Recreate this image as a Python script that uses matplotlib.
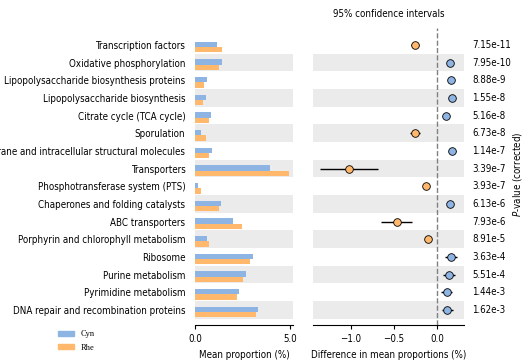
import matplotlib
matplotlib.use("Agg")
import matplotlib.pyplot as plt
import matplotlib.transforms as mtransforms
from matplotlib.patches import Patch

features = ["Transcription factors", "Oxidative phosphorylation",
            "Lipopolysaccharide biosynthesis proteins", "Lipopolysaccharide biosynthesis",
            "Citrate cycle (TCA cycle)", "Sporulation",
            "Membrane and intracellular structural molecules", "Transporters",
            "Phosphotransferase system (PTS)", "Chaperones and folding catalysts",
            "ABC transporters", "Porphyrin and chlorophyll metabolism",
            "Ribosome", "Purine metabolism", "Pyrimidine metabolism",
            "DNA repair and recombination proteins"]
cyn = [1.17, 1.40, 0.65, 0.58, 0.86, 0.32, 0.89, 3.95,
       0.16, 1.37, 2.00, 0.63, 3.05, 2.67, 2.33, 3.30]
rhe = [1.40, 1.26, 0.49, 0.42, 0.74, 0.58, 0.72, 4.95,
       0.30, 1.26, 2.46, 0.74, 2.89, 2.53, 2.21, 3.19]
diff = [-0.26, 0.147, 0.16, 0.167, 0.105, -0.26, 0.174, -1.02,
        -0.13, 0.143, -0.47, -0.104, 0.155, 0.136, 0.108, 0.116]
ci = [0.05, 0.02, 0.02, 0.02, 0.02, 0.06, 0.04, 0.335,
      0.02, 0.03, 0.18, 0.02, 0.07, 0.07, 0.06, 0.065]
pvals = ["7.15e-11", "7.95e-10", "8.88e-9", "1.55e-8", "5.16e-8", "6.73e-8",
         "1.14e-7", "3.39e-7", "3.93e-7", "6.13e-6", "7.93e-6", "8.91e-5",
         "3.63e-4", "5.51e-4", "1.44e-3", "1.62e-3"]

blue = "#8db4e2"
orange = "#ffb86c"
band = "#ebebeb"
fs = 7

plt.rcParams['font.family'] = 'DejaVu Sans'
plt.rcParams['font.stretch'] = 'condensed'
plt.rcParams['font.size'] = fs

fig = plt.figure(figsize=(5.24, 3.6), dpi=100)
W, H = 524.0, 360.0
bottom = 1 - 325 / H
height = 297 / H
ax1 = fig.add_axes([195 / W, bottom, 98 / W, height])
ax2 = fig.add_axes([313 / W, bottom, 151 / W, height])

n = len(features)
ys = list(range(n))

for ax in (ax1, ax2):
    for i in ys:
        if i % 2 == 1:
            ax.axhspan(i - 0.5, i + 0.5, color=band, zorder=0, lw=0)
    for s in ("top", "right", "left"):
        ax.spines[s].set_visible(False)
    ax.set_ylim(15.85, -0.96)
    ax.tick_params(axis='y', length=0)
    ax.tick_params(axis='x', labelsize=fs, length=3)

ax1.barh([y - 0.03 for y in ys], cyn, height=0.3, color=blue, zorder=2)
ax1.barh([y + 0.27 for y in ys], rhe, height=0.3, color=orange, zorder=2)
ax1.set_xlim(0, 5.15)
ax1.set_xticks([0, 5])
ax1.set_xticklabels(["0.0", "5.0"])
ax1.set_yticks(ys)
ax1.set_yticklabels(features, fontsize=fs)
ax1.tick_params(axis='y', pad=7)
ax1.set_xlabel("Mean proportion (%)", fontsize=fs)

ax2.axvline(0, ls='--', color='grey', lw=1, zorder=1)
for i in ys:
    c = orange if diff[i] < 0 else blue
    ax2.errorbar(diff[i], i, xerr=ci[i], fmt='o', color='black', ecolor='black',
                 elinewidth=1, markerfacecolor=c, markeredgecolor='black',
                 markeredgewidth=0.6, markersize=5.5, zorder=3)
ax2.set_xlim(-1.44, 0.31)
ax2.set_xticks([-1.0, -0.5, 0.0])
ax2.set_xticklabels(["\u22121.0", "\u22120.5", "0.0"])
ax2.set_yticks([])
ax2.set_xlabel("Difference in mean proportions (%)", fontsize=fs)
ax2.set_title("95% confidence intervals", fontsize=fs, pad=8)

trans = mtransforms.blended_transform_factory(ax2.transAxes, ax2.transData)
for i in ys:
    ax2.text(1.053, i, pvals[i], transform=trans, va='center', ha='left', fontsize=fs)

fig.text(517 / W, 1 - 174 / H, r"$\bf{\it{P}}$-value (corrected)", rotation=90,
         va='center', ha='center', fontsize=fs)

handles = [Patch(color=blue, label="Cyn"), Patch(color=orange, label="Rhe")]
fig.legend(handles=handles, loc='center left', bbox_to_anchor=(50 / W, 1 - 341 / H),
           frameon=False, prop={'family': 'Liberation Serif', 'size': 6},
           handlelength=2.0, handleheight=0.5, labelspacing=0.6)

fig.savefig("out.png", dpi=100)
